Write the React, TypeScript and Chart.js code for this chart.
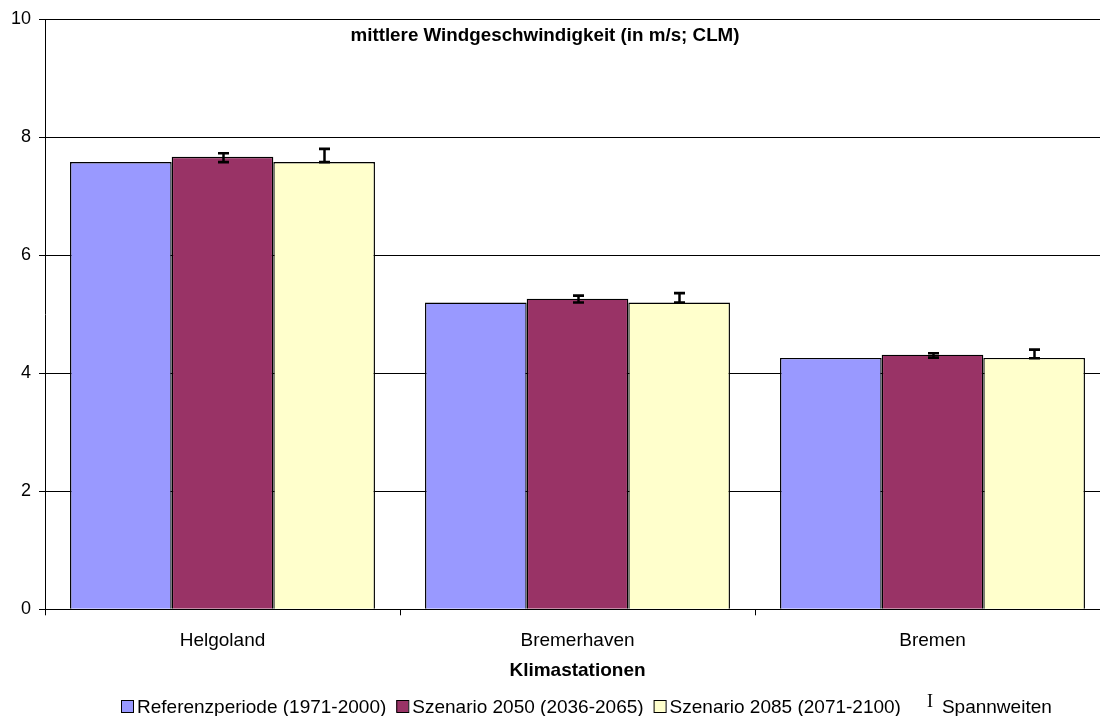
import React, { useEffect, useRef } from 'react';
import { Chart, registerables } from 'chart.js';

Chart.register(...registerables);

const categories = ['Helgoland', 'Bremerhaven', 'Bremen'];
const referenz = [7.58, 5.2, 4.26];
const szenario2050 = [7.67, 5.265, 4.315];
const szenario2085 = [7.58, 5.2, 4.26];
const spanne2050Min = [7.58, 5.2, 4.265];
const spanne2050Max = [7.73, 5.315, 4.34];
const spanne2085Min = [7.58, 5.2, 4.255];
const spanne2085Max = [7.805, 5.36, 4.4];
const yTicks = [0, 2, 4, 6, 8, 10];
const seriesLabels = ['Referenzperiode (1971-2000)', 'Szenario 2050 (2036-2065)', 'Szenario 2085 (2071-2100)'];
const seriesColors = ['#9999FF', '#993366', '#FFFFCC'];
const errorLabel = 'Spannweiten';
const titleText = 'mittlere Windgeschwindigkeit (in m/s; CLM)';
const xTitle = 'Klimastationen';

const FONT = '"Liberation Sans", Arial, sans-serif';

const errorBarPlugin = {
  id: 'errorBars',
  afterDatasetsDraw(chart: any) {
    const ctx = chart.ctx;
    const yScale = chart.scales.y;
    const sets: [number, number[], number[]][] = [
      [1, spanne2050Min, spanne2050Max],
      [2, spanne2085Min, spanne2085Max],
    ];
    ctx.save();
    ctx.strokeStyle = '#000';
    ctx.lineCap = 'butt';
    sets.forEach(([idx, mins, maxs]) => {
      const meta = chart.getDatasetMeta(idx);
      meta.data.forEach((bar: any, i: number) => {
        const x = Math.round(bar.x) + 0.5;
        const yl = yScale.getPixelForValue(mins[i]);
        const yh = yScale.getPixelForValue(maxs[i]);
        ctx.lineWidth = 2.5;
        ctx.beginPath();
        ctx.moveTo(x, yl);
        ctx.lineTo(x, yh);
        ctx.stroke();
        ctx.lineWidth = 2.7;
        ctx.beginPath();
        ctx.moveTo(x - 5.5, yh);
        ctx.lineTo(x + 5.5, yh);
        ctx.moveTo(x - 5.5, yl);
        ctx.lineTo(x + 5.5, yl);
        ctx.stroke();
      });
    });
    ctx.restore();
  },
};

const textPlugin = {
  id: 'texts',
  afterDraw(chart: any) {
    const ctx = chart.ctx;
    ctx.save();
    ctx.fillStyle = '#000';
    ctx.font = `bold 18.8px ${FONT}`;
    ctx.textAlign = 'center';
    ctx.textBaseline = 'alphabetic';
    ctx.fillText(titleText, 545, 41);

    ctx.font = `19px ${FONT}`;
    ctx.textAlign = 'left';
    let x = 121;
    const baseline = 712.5;
    seriesLabels.forEach((lab, i) => {
      ctx.fillStyle = seriesColors[i];
      ctx.fillRect(x, 700, 12, 12);
      ctx.strokeStyle = '#000';
      ctx.lineWidth = 1;
      ctx.strokeRect(x + 0.5, 700.5, 12, 12);
      ctx.fillStyle = '#000';
      ctx.fillText(lab, x + 16, baseline);
      x = x + 16 + ctx.measureText(lab).width + 10;
    });
    ctx.font = `18px "Liberation Serif", "Times New Roman", serif`;
    ctx.fillText('I', x + 16, 706.5);
    ctx.font = `19px ${FONT}`;
    ctx.fillText(errorLabel, x + 31, baseline);
    ctx.restore();
  },
};

export default function App() {
  const ref = useRef<HTMLCanvasElement>(null);
  useEffect(() => {
    if (!ref.current) return;
    const chart = new Chart(ref.current, {
      type: 'bar',
      data: {
        labels: categories,
        datasets: [
          { label: seriesLabels[0], data: referenz, backgroundColor: seriesColors[0], borderColor: '#000', borderWidth: 1.4 },
          { label: seriesLabels[1], data: szenario2050, backgroundColor: seriesColors[1], borderColor: '#000', borderWidth: 1.4 },
          { label: seriesLabels[2], data: szenario2085, backgroundColor: seriesColors[2], borderColor: '#000', borderWidth: 1.4 },
        ],
      },
      options: {
        responsive: false,
        animation: false,
        devicePixelRatio: 1,
        datasets: { bar: { categoryPercentage: 0.859, barPercentage: 1 } },
        layout: { padding: { top: 19.3, right: 10, left: 0, bottom: 0 } },
        plugins: {
          legend: { display: false },
          tooltip: { enabled: false },
          title: { display: false },
        },
        scales: {
          x: {
            grid: { display: true, drawOnChartArea: false, drawTicks: true, tickLength: 6, color: '#000', offset: true },
            border: { display: true, color: '#000', width: 1 },
            ticks: { color: '#000', font: { family: FONT, size: 19 }, padding: 14, maxRotation: 0, autoSkip: false },
            title: {
              display: true,
              text: xTitle,
              color: '#000',
              font: { family: FONT, size: 19, weight: 'bold' },
              padding: { top: 0, bottom: 34 },
            },
            afterFit: (s: any) => {
              s.height = 106.7;
              s.paddingLeft = 0;
              s.paddingRight = 0;
            },
          },
          y: {
            min: 0,
            max: 10,
            afterBuildTicks: (s: any) => {
              s.ticks = yTicks.map((v) => ({ value: v }));
            },
            grid: { color: '#000', tickLength: 6, drawTicks: true },
            border: { display: true, color: '#000', width: 1 },
            ticks: { color: '#000', font: { family: FONT, size: 18 }, padding: 8 },
            afterFit: (s: any) => {
              s.width = 45;
              s.paddingTop = 0;
              s.paddingBottom = 0;
            },
          },
        },
      },
      plugins: [errorBarPlugin, textPlugin],
    } as any);
    return () => chart.destroy();
  }, []);
  return (
    <div style={{ position: 'fixed', left: 0, top: 0, width: 1100, height: 716, overflow: 'hidden', background: '#fff' }}>
      <canvas ref={ref} width={1120} height={716} style={{ display: 'block' }} />
    </div>
  );
}
